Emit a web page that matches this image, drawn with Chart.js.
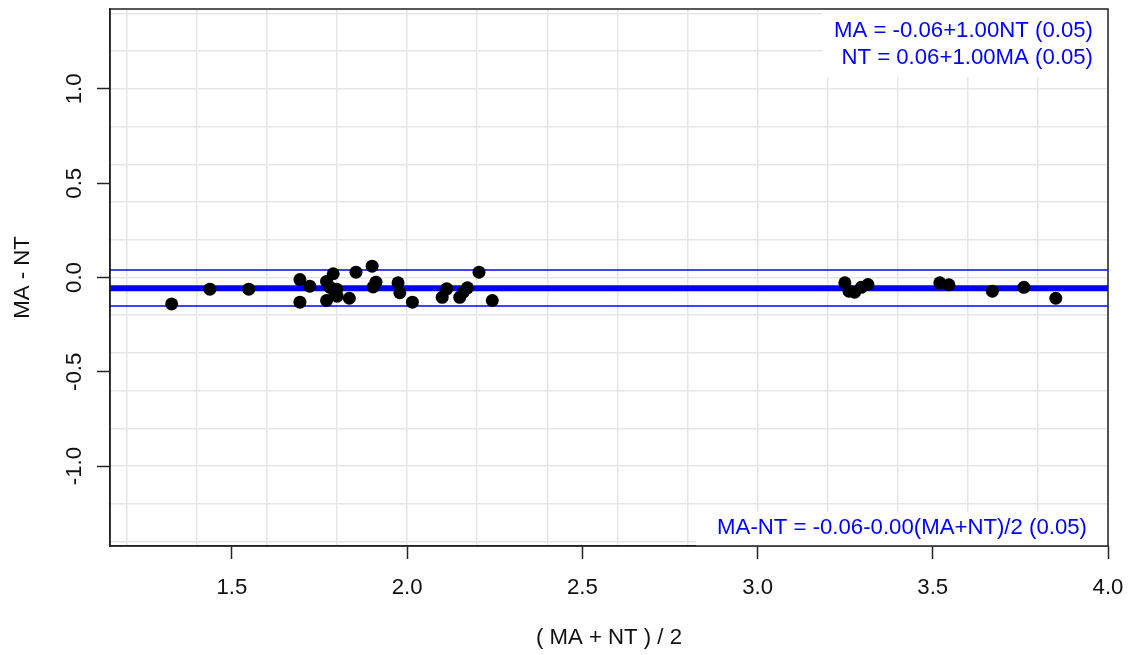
<!DOCTYPE html>
<html>
<head>
<meta charset="utf-8">
<title>MA - NT agreement plot</title>
<script src="https://cdn.jsdelivr.net/npm/chart.js@4/dist/chart.umd.min.js"></script>
<style>
  body { margin: 0; background: #ffffff; }
  #chart { display: block; }
</style>
</head>
<body>
<canvas id="chart" width="1131" height="655"></canvas>
<script>
// ( MA + NT ) / 2 for every sample
const meanValues = [
    1.328, 1.437, 1.548, 1.694, 1.694, 1.722, 1.770, 1.789, 1.780, 1.799,
    1.770, 1.800, 1.794, 1.835, 1.854, 1.900, 1.911, 1.903, 1.974, 1.979,
    2.015, 2.100, 2.113, 2.150, 2.160, 2.172, 2.205, 2.243,
    3.249, 3.261, 3.277, 3.296, 3.315, 3.520, 3.546, 3.670, 3.760, 3.851
];
// MA - NT for every sample
const diffValues = [
    -0.140, -0.062, -0.062, -0.011, -0.131, -0.046, -0.021, 0.020, -0.052, -0.062,
    -0.122, -0.099, -0.084, -0.110, 0.028, 0.060, -0.025, -0.050, -0.028, -0.081,
    -0.131, -0.105, -0.060, -0.105, -0.078, -0.055, 0.028, -0.122,
    -0.028, -0.073, -0.078, -0.052, -0.037, -0.028, -0.039, -0.073, -0.052, -0.110
];

// bias and limits of agreement
const meanDiff = -0.057;
const upperLimit = 0.040;
const lowerLimit = -0.151;

// axes
const xLimits = [1.152, 4.0];
const yLimits = [-1.424, 1.424];
const xTicks = [1.5, 2.0, 2.5, 3.0, 3.5, 4.0];
const yTicks = [-1.0, -0.5, 0.0, 0.5, 1.0];
const xGrid = [1.2, 1.4, 1.6, 1.8, 2.0, 2.2, 2.4, 2.6, 2.8, 3.0, 3.2, 3.4, 3.6, 3.8, 4.0];
const yGrid = [-1.4, -1.2, -1.0, -0.8, -0.6, -0.4, -0.2, 0.0, 0.2, 0.4, 0.6, 0.8, 1.0, 1.2, 1.4];

// regression texts
const legendTop = ['MA = -0.06+1.00NT (0.05)', 'NT = 0.06+1.00MA (0.05)'];
const legendBottom = 'MA-NT = -0.06-0.00(MA+NT)/2 (0.05)';

const fontFamily = '"Liberation Sans", Arial, Helvetica, sans-serif';
const textFont = { family: fontFamily, size: 22.2 };
const axisColor = '#222222';
const gridColor = '#e6e6e6';

// legend boxes + the frame round the plot
const framePlugin = {
    id: 'framePlugin',
    beforeDatasetsDraw(chart) {
        const ctx = chart.ctx;
        const area = chart.chartArea;
        ctx.save();
        // white background under the texts, hides the grid
        ctx.fillStyle = '#ffffff';
        ctx.fillRect(area.right - 286, area.top, 286, 68);
        ctx.fillRect(area.right - 412, area.bottom - 34, 412, 34);

        ctx.fillStyle = '#0000ff';
        ctx.font = textFont.size + 'px ' + fontFamily;
        ctx.textAlign = 'right';
        ctx.textBaseline = 'middle';
        ctx.fillText(legendTop[0], area.right - 15, area.top + 22);
        ctx.fillText(legendTop[1], area.right - 15, area.top + 49);
        ctx.fillText(legendBottom, area.right - 21, area.bottom - 18);
        ctx.restore();
    },
    afterDraw(chart) {
        const ctx = chart.ctx;
        const area = chart.chartArea;
        ctx.save();
        ctx.strokeStyle = axisColor;
        ctx.lineWidth = 1.5;
        ctx.strokeRect(area.left, area.top, area.right - area.left, area.bottom - area.top);
        ctx.restore();
    }
};

function hLine(y) {
    return [{ x: xLimits[0], y: y }, { x: xLimits[1], y: y }];
}

// fixed axis sizes, no extra room for overflowing labels
function fitX(height) {
    return s => { s.height = height; s.paddingLeft = 0; s.paddingRight = 0; };
}
function fitY(width) {
    return s => { s.width = width; s.paddingTop = 0; s.paddingBottom = 0; };
}

const ctx = document.getElementById('chart').getContext('2d');
const chart = new Chart(ctx, {
    type: 'scatter',
    data: {
        datasets: [
            {
                label: 'samples',
                data: meanValues.map((x, i) => ({ x: x, y: diffValues[i] })),
                pointRadius: 6.5,
                pointBackgroundColor: '#000000',
                pointBorderWidth: 0,
                showLine: false,
                order: 0
            },
            {
                label: 'mean',
                data: hLine(meanDiff),
                showLine: true,
                borderColor: '#0000ff',
                borderWidth: 6,
                pointRadius: 0,
                order: 1
            },
            {
                label: 'upper',
                data: hLine(upperLimit),
                showLine: true,
                borderColor: '#0000ff',
                borderWidth: 1.5,
                pointRadius: 0,
                order: 2
            },
            {
                label: 'lower',
                data: hLine(lowerLimit),
                showLine: true,
                borderColor: '#0000ff',
                borderWidth: 1.5,
                pointRadius: 0,
                order: 3
            }
        ]
    },
    options: {
        responsive: false,
        animation: false,
        layout: { padding: { top: 9, right: 23, left: 0, bottom: 0 } },
        plugins: {
            legend: { display: false },
            tooltip: { enabled: false }
        },
        scales: {
            x: {
                type: 'linear',
                position: 'bottom',
                min: xLimits[0],
                max: xLimits[1],
                afterBuildTicks: s => { s.ticks = xTicks.map(v => ({ value: v })); },
                afterFit: fitX(109),
                grid: { drawOnChartArea: false, drawTicks: true, tickLength: 13, tickColor: axisColor, tickWidth: 1.5 },
                border: { display: true, color: axisColor, width: 1.5 },
                ticks: {
                    color: '#111111',
                    font: textFont,
                    padding: 16,
                    maxRotation: 0,
                    autoSkip: false,
                    callback: v => v.toFixed(1)
                },
                title: {
                    display: true,
                    text: '( MA + NT ) / 2',
                    color: '#111111',
                    font: textFont,
                    padding: { top: 0, bottom: 4 }
                }
            },
            y: {
                type: 'linear',
                position: 'left',
                min: yLimits[0],
                max: yLimits[1],
                afterBuildTicks: s => { s.ticks = yTicks.map(v => ({ value: v })); },
                afterFit: fitY(110),
                grid: { drawOnChartArea: false, drawTicks: true, tickLength: 13, tickColor: axisColor, tickWidth: 1.5 },
                border: { display: true, color: axisColor, width: 1.5 },
                ticks: {
                    color: '#111111',
                    font: textFont,
                    padding: 3,
                    minRotation: 90,
                    maxRotation: 90,
                    crossAlign: 'center',
                    autoSkip: false,
                    callback: v => v.toFixed(1)
                },
                title: {
                    display: true,
                    text: 'MA - NT',
                    color: '#111111',
                    font: textFont,
                    padding: { top: 10, bottom: 0 }
                }
            },
            // light grid every 0.2, separate from the labelled ticks
            gx: {
                type: 'linear',
                axis: 'x',
                position: 'bottom',
                min: xLimits[0],
                max: xLimits[1],
                afterBuildTicks: s => { s.ticks = xGrid.map(v => ({ value: v })); },
                afterFit: fitX(0),
                grid: { color: gridColor, lineWidth: 1.5, drawTicks: false },
                border: { display: false },
                ticks: { display: false }
            },
            gy: {
                type: 'linear',
                axis: 'y',
                position: 'left',
                min: yLimits[0],
                max: yLimits[1],
                afterBuildTicks: s => { s.ticks = yGrid.map(v => ({ value: v })); },
                afterFit: fitY(0),
                grid: { color: gridColor, lineWidth: 1.5, drawTicks: false },
                border: { display: false },
                ticks: { display: false }
            }
        }
    },
    plugins: [framePlugin]
});
</script>
</body>
</html>
